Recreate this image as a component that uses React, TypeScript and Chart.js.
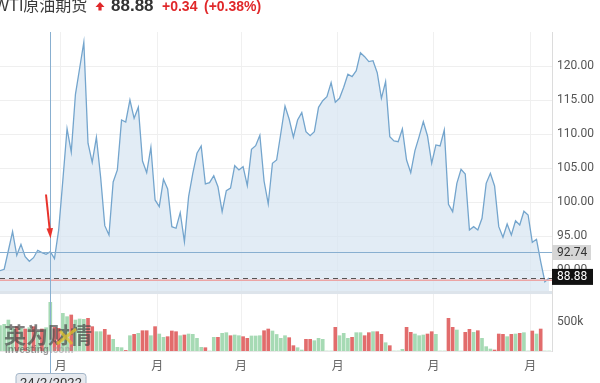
import React, { useEffect, useRef } from 'react';
import { Chart, registerables } from 'chart.js';

Chart.register(...registerables);

// ---- data ----
const TITLE = 'WTI原油期货';
const LAST_PRICE = 88.88;
const PREV_CLOSE = 88.54;
const CHANGE = '+0.34';
const CHANGE_PCT = '(+0.38%)';

const CROSS_INDEX = 12;
const CROSS_PRICE = 92.74;
const CROSS_DATE = '24/2/2022';

const PRICES = [
  89.94, 90.15, 92.91, 95.68, 92.21, 93.82, 92.0, 91.32, 91.85, 92.94,
  92.59, 92.35, 92.74, 91.71, 95.93, 103.28, 110.82, 107.4, 115.88, 119.71,
  123.53, 108.68, 105.88, 109.56, 103.76, 96.56, 95.19, 102.99, 104.75, 112.1,
  111.81, 115.04, 112.35, 113.97, 106.07, 104.35, 108.09, 100.34, 99.35, 103.38,
  101.96, 96.41, 96.18, 98.47, 94.21, 100.82, 104.26, 107.21, 108.28, 102.69,
  102.88, 103.91, 102.29, 98.62, 101.71, 102.1, 105.38, 104.75, 105.24, 102.44,
  107.79, 108.32, 109.85, 103.13, 99.75, 105.74, 106.22, 110.15, 114.16, 112.21,
  109.56, 112.1, 113.18, 110.38, 109.79, 110.38, 113.97, 114.94, 115.53, 117.59,
  114.71, 115.29, 116.91, 118.82, 118.47, 119.35, 122.0, 121.41, 120.68, 120.82,
  119.06, 115.29, 117.74, 109.65, 109.01, 108.91, 110.78, 106.22, 104.35, 107.59,
  109.65, 111.85, 109.75, 105.74, 108.43, 108.28, 110.63, 99.71, 98.62, 102.79,
  104.85, 104.16, 95.93, 96.41, 95.93, 97.65, 102.79, 104.26, 102.4, 96.41,
  94.85, 96.81, 95.19, 97.29, 96.66, 98.68, 98.13, 94.12, 94.56, 91.26,
  88.32, 88.88,
];

// volume in thousands
const VOLUMES_K = [
  437, 460, 534, 391, 420, 391, 379, 402, 420, 333,
  379, 402, 839, 408, 391, 649, 592, 621, 534, 552,
  546, 563, 420, 333, 333, 374, 276, 201, 63, 57,
  10, 264, 287, 305, 350, 350, 264, 420, 293, 236,
  247, 345, 333, 264, 276, 293, 287, 218, 63, 57,
  0, 236, 236, 305, 316, 264, 276, 264, 247, 218,
  259, 259, 264, 350, 379, 345, 285, 218, 264, 230,
  92, 57, 17, 201, 201, 178, 218, 201, 0, 0,
  408, 264, 305, 218, 236, 316, 316, 264, 316, 333,
  333, 287, 143, 92, 0, 0, 29, 408, 322, 293,
  264, 276, 293, 333, 287, 0, 0, 563, 408, 362,
  0, 322, 374, 322, 350, 218, 75, 34, 17, 293,
  287, 247, 287, 293, 305, 316, 0, 345, 293, 379,
  0, 0,
];

// U = up day (green), D = down day (red)
const VOLUME_SIDE = (
  'UUUUDUDUDU' + 'DUUDDUUDUU' + 'UDDUUDDUUU' + 'DUDUDDUDUU' + 'DDDUDUUUUD' +
  'UUDUUDUUDD' + 'UUUDDUUUUD' + 'DUUDDUUUUU' + 'DUUUDUUDDU' + 'DDUDUUUDDU' +
  'UUDDUUUDDU' + 'UDDUDUUUDD' + 'DUDUDUUDUD' + 'UU'
).split('');

const PRICE_TICKS = [90, 95, 100, 105, 110, 115, 120];
const VOLUME_TICK_K = 500;
const VOLUME_TICK_LABEL = '500k';
const MONTH_POSITIONS = [14.5, 37.5, 57.5, 80.6, 103.4, 126.5];
const MONTH_LABEL = '月';

// ---- styles ----
const LINE_COLOR = '#74a5cd';
const FILL_COLOR = 'rgba(214, 228, 241, 0.7)';
const UP_COLOR = '#a6dab4';
const DOWN_COLOR = '#e26c6c';
const AXIS_FONT = '"Roboto", "Liberation Sans", sans-serif';
const CJK_FONT = '"Liberation Sans", "Noto Sans CJK SC", sans-serif';

const Y_MIN = 78.13;
const Y_MAX = 125.04;
const PANEL_FLOOR = 86.8;
const VOL_MAX_K = 5500;

const overlayPlugin = {
  id: 'overlay',
  afterDraw(chart: any) {
    const { ctx, chartArea: ca, scales } = chart;
    const xs = scales.x;
    const ys = scales.y;
    const yv = scales.yv;
    ctx.save();

    // panel separator
    const sepY = ys.getPixelForValue(PANEL_FLOOR);
    ctx.fillStyle = '#dde4eb';
    ctx.fillRect(ca.left, sepY - 1, ca.right - ca.left, 3);

    // previous close (red) line
    const prevY = ys.getPixelForValue(PREV_CLOSE);
    ctx.strokeStyle = '#eca5a5';
    ctx.lineWidth = 1.5;
    ctx.beginPath();
    ctx.moveTo(ca.left, prevY);
    ctx.lineTo(ca.right, prevY);
    ctx.stroke();

    // last price dashed line
    const lastY = ys.getPixelForValue(LAST_PRICE);
    ctx.strokeStyle = '#555';
    ctx.lineWidth = 1;
    ctx.setLineDash([5, 4]);
    ctx.beginPath();
    ctx.moveTo(ca.left, Math.round(lastY) + 0.5);
    ctx.lineTo(ca.right, Math.round(lastY) + 0.5);
    ctx.stroke();
    ctx.setLineDash([]);

    // crosshair
    const cx = Math.round(xs.getPixelForValue(CROSS_INDEX)) + 0.5;
    const cy = Math.round(ys.getPixelForValue(CROSS_PRICE)) + 0.5;
    ctx.strokeStyle = '#88afd0';
    ctx.lineWidth = 1;
    ctx.beginPath();
    ctx.moveTo(ca.left, cy);
    ctx.lineTo(ca.right, cy);
    ctx.moveTo(cx, ca.top);
    ctx.lineTo(cx, chart.height);
    ctx.stroke();

    // right-side price boxes
    ctx.font = '12px ' + AXIS_FONT;
    ctx.textBaseline = 'middle';
    ctx.textAlign = 'left';
    ctx.fillStyle = '#d6d6d6';
    ctx.fillRect(ca.right, cy - 7.5, 39, 15);
    ctx.fillStyle = '#333';
    ctx.fillText(CROSS_PRICE.toFixed(2), ca.right + 5, cy);
    ctx.fillStyle = '#111';
    ctx.fillRect(ca.right, lastY - 9, 41, 16);
    ctx.fillStyle = '#fff';
    ctx.fillText(LAST_PRICE.toFixed(2), ca.right + 5, lastY - 1);

    // volume tick label
    ctx.fillStyle = '#555';
    ctx.fillText(VOLUME_TICK_LABEL, ca.right + 5, yv.getPixelForValue(VOLUME_TICK_K));

    // watermark
    ctx.globalAlpha = 0.7;
    ctx.fillStyle = '#4a4a4a';
    ctx.font = 'bold 22px "Noto Sans CJK SC", sans-serif';
    ctx.textBaseline = 'alphabetic';
    ctx.fillText('英为财情', 4, 343);
    ctx.globalAlpha = 0.75;
    ctx.strokeStyle = '#e2c02a';
    ctx.lineWidth = 3;
    ctx.beginPath();
    ctx.moveTo(57, 344);
    ctx.lineTo(76, 329);
    ctx.moveTo(60, 331);
    ctx.lineTo(72, 344);
    ctx.stroke();
    ctx.globalAlpha = 0.6;
    ctx.font = 'bold 10px "Liberation Sans", sans-serif';
    ctx.fillStyle = '#555';
    ctx.fillText('Investing', 5, 353);
    ctx.fillStyle = '#999';
    ctx.fillText('.com', 50, 353);
    ctx.globalAlpha = 1;

    // red arrow pointing to crosshair point
    const tipX = cx;
    const tipY = cy - 14;
    ctx.strokeStyle = '#e8322b';
    ctx.fillStyle = '#e8322b';
    ctx.lineWidth = 2;
    ctx.beginPath();
    ctx.moveTo(tipX - 4.5, cy - 58);
    ctx.lineTo(tipX - 0.6, tipY - 7);
    ctx.stroke();
    ctx.beginPath();
    ctx.moveTo(tipX, tipY);
    ctx.lineTo(tipX - 4, tipY - 10);
    ctx.lineTo(tipX + 2.5, tipY - 10.5);
    ctx.closePath();
    ctx.fill();

    // date box
    ctx.fillStyle = '#e6e9ee';
    ctx.strokeStyle = '#a3b6c9';
    ctx.lineWidth = 1;
    ctx.beginPath();
    (ctx as any).roundRect(cx - 34.5, 373.5, 70, 20, 3);
    ctx.fill();
    ctx.stroke();
    ctx.fillStyle = '#333';
    ctx.font = '13px ' + AXIS_FONT;
    ctx.textAlign = 'center';
    ctx.fillText(CROSS_DATE, cx + 0.5, 387);

    // title
    ctx.textAlign = 'left';
    ctx.textBaseline = 'alphabetic';
    ctx.font = '16px ' + CJK_FONT;
    ctx.fillStyle = '#3c3c3c';
    ctx.fillText(TITLE, -6, 11);
    // up arrow
    ctx.fillStyle = '#e0282a';
    ctx.beginPath();
    ctx.moveTo(100, 2);
    ctx.lineTo(104.5, 7);
    ctx.lineTo(101.6, 7);
    ctx.lineTo(101.6, 10.5);
    ctx.lineTo(98.4, 10.5);
    ctx.lineTo(98.4, 7);
    ctx.lineTo(95.5, 7);
    ctx.closePath();
    ctx.fill();
    ctx.font = 'bold 17px "Liberation Sans", sans-serif';
    ctx.fillStyle = '#333';
    ctx.fillText(LAST_PRICE.toFixed(2), 111, 11);
    ctx.font = 'bold 14px "Liberation Sans", sans-serif';
    ctx.fillStyle = '#e0282a';
    ctx.fillText(CHANGE, 162, 11);
    ctx.fillText(CHANGE_PCT, 204, 11);

    ctx.restore();
  },
};

export default function App() {
  const canvasRef = useRef<HTMLCanvasElement | null>(null);

  useEffect(() => {
    document.body.style.margin = '0';
    const canvas = canvasRef.current;
    if (!canvas) return;

    const chart = new Chart(canvas, {
      type: 'line',
      data: {
        datasets: [
          {
            type: 'line',
            data: PRICES.map((p, i) => ({ x: i, y: p })),
            borderColor: LINE_COLOR,
            borderWidth: 1.3,
            pointRadius: 0,
            tension: 0,
            fill: { value: PANEL_FLOOR },
            backgroundColor: FILL_COLOR,
            yAxisID: 'y',
            order: 1,
          } as any,
          {
            type: 'bar',
            data: VOLUMES_K.map((v, i) => ({ x: i, y: v })),
            backgroundColor: VOLUME_SIDE.map((s) => (s === 'U' ? UP_COLOR : DOWN_COLOR)),
            barThickness: 3,
            yAxisID: 'yv',
            order: 2,
          } as any,
        ],
      },
      options: {
        responsive: false,
        animation: false,
        devicePixelRatio: 1,
        layout: { padding: { top: 32, left: 0, right: 0, bottom: 0 } },
        plugins: { legend: { display: false }, tooltip: { enabled: false } },
        scales: {
          x: {
            type: 'linear',
            position: 'bottom',
            min: 0,
            max: 131.7,
            bounds: 'data',
            offset: false,
            grid: { color: '#f0f0f0', drawTicks: false, offset: false },
            border: { display: true, color: '#e8e8e8' },
            ticks: {
              padding: 7,
              color: '#666',
              font: { size: 12, family: '"Noto Sans CJK SC", sans-serif' },
              maxRotation: 0,
              autoSkip: false,
              callback: () => MONTH_LABEL,
            },
            afterBuildTicks: (s: any) => {
              s.ticks = MONTH_POSITIONS.map((v) => ({ value: v }));
            },
            afterFit: (s: any) => {
              s.height = 32;
            },
          },
          y: {
            type: 'linear',
            position: 'right',
            min: Y_MIN,
            max: Y_MAX,
            bounds: 'data',
            grid: { color: '#efefef', drawTicks: false },
            border: { display: true, color: '#dcdcdc' },
            ticks: {
              padding: 5,
              color: '#555',
              font: { size: 12, family: AXIS_FONT },
              callback: (v: any) => Number(v).toFixed(2),
            },
            afterBuildTicks: (s: any) => {
              s.ticks = PRICE_TICKS.map((v) => ({ value: v }));
            },
            afterFit: (s: any) => {
              s.width = 48;
            },
          },
          yv: {
            type: 'linear',
            display: false,
            min: 0,
            max: VOL_MAX_K,
          },
        },
      } as any,
      plugins: [overlayPlugin],
    });

    return () => chart.destroy();
  }, []);

  return (
    <div style={{ width: 600, height: 383, position: 'relative', background: '#fff' }}>
      <canvas ref={canvasRef} width={600} height={383} style={{ display: 'block' }} />
    </div>
  );
}
